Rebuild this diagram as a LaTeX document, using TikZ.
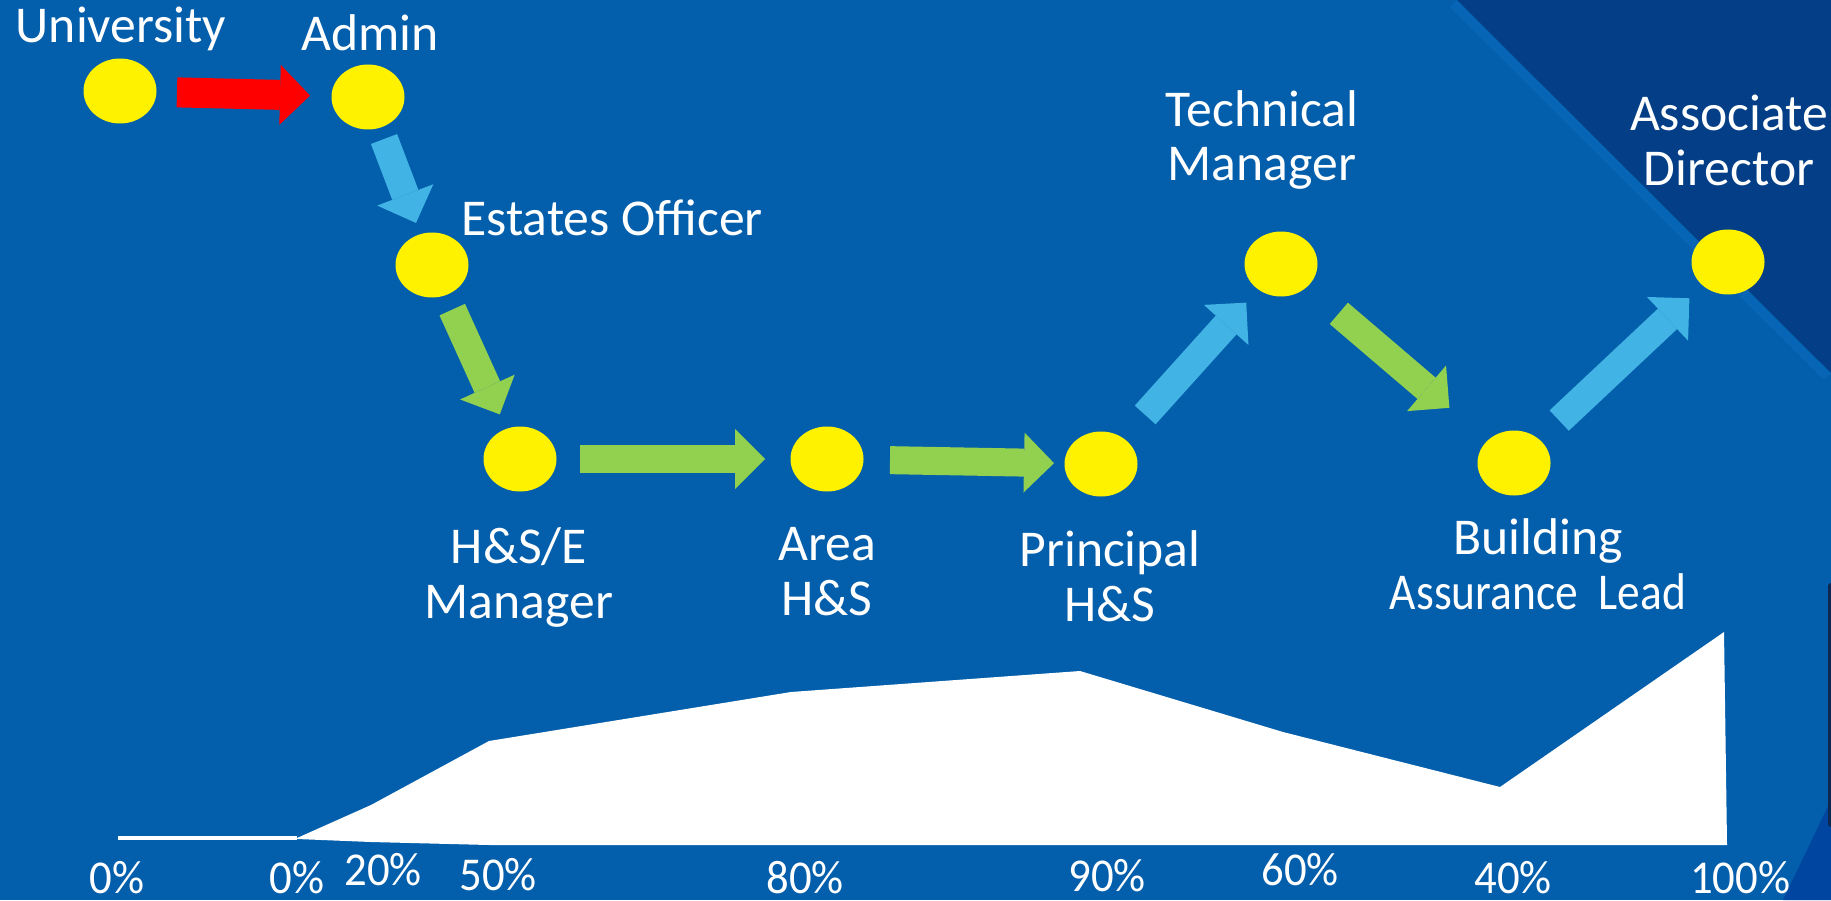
\documentclass[tikz,border=0pt]{standalone}
\usepackage{fontspec}
\setmainfont{Carlito}
\newfontfamily\pctfont[FakeStretch=0.95]{Carlito}
\usetikzlibrary{shapes.geometric, arrows.meta}

\definecolor{slide}{RGB}{3,94,172}
\definecolor{slidedark}{RGB}{3,62,134}
\definecolor{slideedge}{RGB}{6,101,180}
\definecolor{slidecorner}{RGB}{0,70,160}
\definecolor{slidenavy}{RGB}{12,40,80}
\definecolor{flowgreen}{RGB}{146,208,80}
\definecolor{flowblue}{RGB}{65,179,228}

\begin{document}
\begin{tikzpicture}[
    dot/.style={ellipse, fill=yellow, minimum width=0.73cm, minimum height=0.65cm, inner sep=0pt},
    flow/.style={line width=0.28cm, -{Triangle[width=0.6cm, length=0.3cm, line width=0pt]}},
    role/.style={text=white, align=center, anchor=base, inner sep=0pt, font=\fontsize{14.7}{15.6}\selectfont},
    pct/.style={text=white, anchor=base, inner sep=0pt, font=\pctfont\fontsize{13.4}{14}\selectfont}]
    \useasboundingbox (0,0) rectangle (18.31,9);
    \fill[slide] (0,0) rectangle (18.31,9);

    % corner panels
    \draw[slideedge, line width=0.2cm] (14.57,9) -- (18.31,5.27);
    \fill[slidedark] (14.57,9) -- (18.31,9) -- (18.31,5.27) -- cycle;
    \fill[slidecorner] (17.83,0) -- (18.31,0) -- (18.31,1.0) -- cycle;
    \fill[slidenavy, rounded corners=0.03cm] (18.28,3.17) rectangle (18.36,0.73);

    % percentage profile
    \draw[white, line width=0.04cm] (1.18,0.62) -- (2.97,0.62);
    \fill[white] (2.97,0.62) -- (3.71,0.95) -- (4.89,1.59) -- (7.91,2.08) -- (10.80,2.29)
        -- (12.83,1.68) -- (15.00,1.13) -- (17.24,2.68) -- (17.27,0.55) -- (4.89,0.55)
        -- (3.71,0.58) -- (2.97,0.61) -- cycle;

    \node[dot] (univ) at (1.20,8.09) {};
    \node[dot] (admin) at (3.68,8.03) {};
    \node[dot] (estates) at (4.32,6.35) {};
    \node[dot] (hse) at (5.20,4.41) {};
    \node[dot] (area) at (8.27,4.41) {};
    \node[dot] (princ) at (11.01,4.36) {};
    \node[dot] (tech) at (12.81,6.36) {};
    \node[dot] (build) at (15.14,4.37) {};
    \node[dot] (assoc) at (17.28,6.38) {};

    \draw[flow, red, line width=0.3cm, shorten <=0.57cm, shorten >=0.58cm] (univ.center) -- (admin.center);
    \draw[flow, flowblue, shorten <=0.45cm, shorten >=0.45cm] (admin.center) -- (estates.center);
    \draw[flow, flowgreen, shorten <=0.49cm, shorten >=0.49cm] (estates.center) -- (hse.center);
    \draw[flow, flowgreen, shorten <=0.60cm, shorten >=0.62cm] (hse.center) -- (area.center);
    \draw[flow, flowgreen, shorten <=0.63cm, shorten >=0.47cm] (area.center) -- (princ.center);
    \draw[flow, flowblue, shorten <=0.66cm, shorten >=0.52cm] (princ.center) -- (tech.center);
    \draw[flow, flowgreen, shorten <=0.76cm, shorten >=0.85cm] (tech.center) -- (build.center);
    \draw[flow, flowblue, shorten <=0.62cm, shorten >=0.53cm] (build.center) -- (assoc.center);

    % two-line labels sit on the baseline of their last line
    \node[role] (univlbl) at (1.21,8.57) {University};
    \node[role] (adminlbl) at (3.70,8.49) {Admin};
    \node[role] (estateslbl) at (6.12,6.65) {Estates Officer};
    \node[role] (hselbl) at (5.19,2.82) {H\&S/E\\Manager};
    \node[role] (arealbl) at (8.27,2.85) {Area\\H\&S};
    \node[role] (princlbl) at (11.10,2.79) {Principal\\H\&S};
    \node[role] (techlbl) at (12.62,7.19) {Technical\\Manager};
    \node[role] (buildlbl) at (15.38,2.91) {Building\\\scalebox{0.88}[1]{Assurance~~Lead}};
    \node[role] (assoclbl) at (17.29,7.15) {Associate\\Director};

    \node[pct] (p1) at (1.17,0.07) {0\%};
    \node[pct] (p2) at (2.97,0.07) {0\%};
    \node[pct] (p3) at (3.83,0.15) {20\%};
    \node[pct] (p4) at (4.98,0.10) {50\%};
    \node[pct] (p5) at (8.05,0.07) {80\%};
    \node[pct] (p6) at (11.07,0.09) {90\%};
    \node[pct] (p7) at (13.00,0.15) {60\%};
    \node[pct] (p8) at (15.13,0.07) {40\%};
    \node[pct] (p9) at (17.40,0.07) {100\%};
\end{tikzpicture}
\end{document}
